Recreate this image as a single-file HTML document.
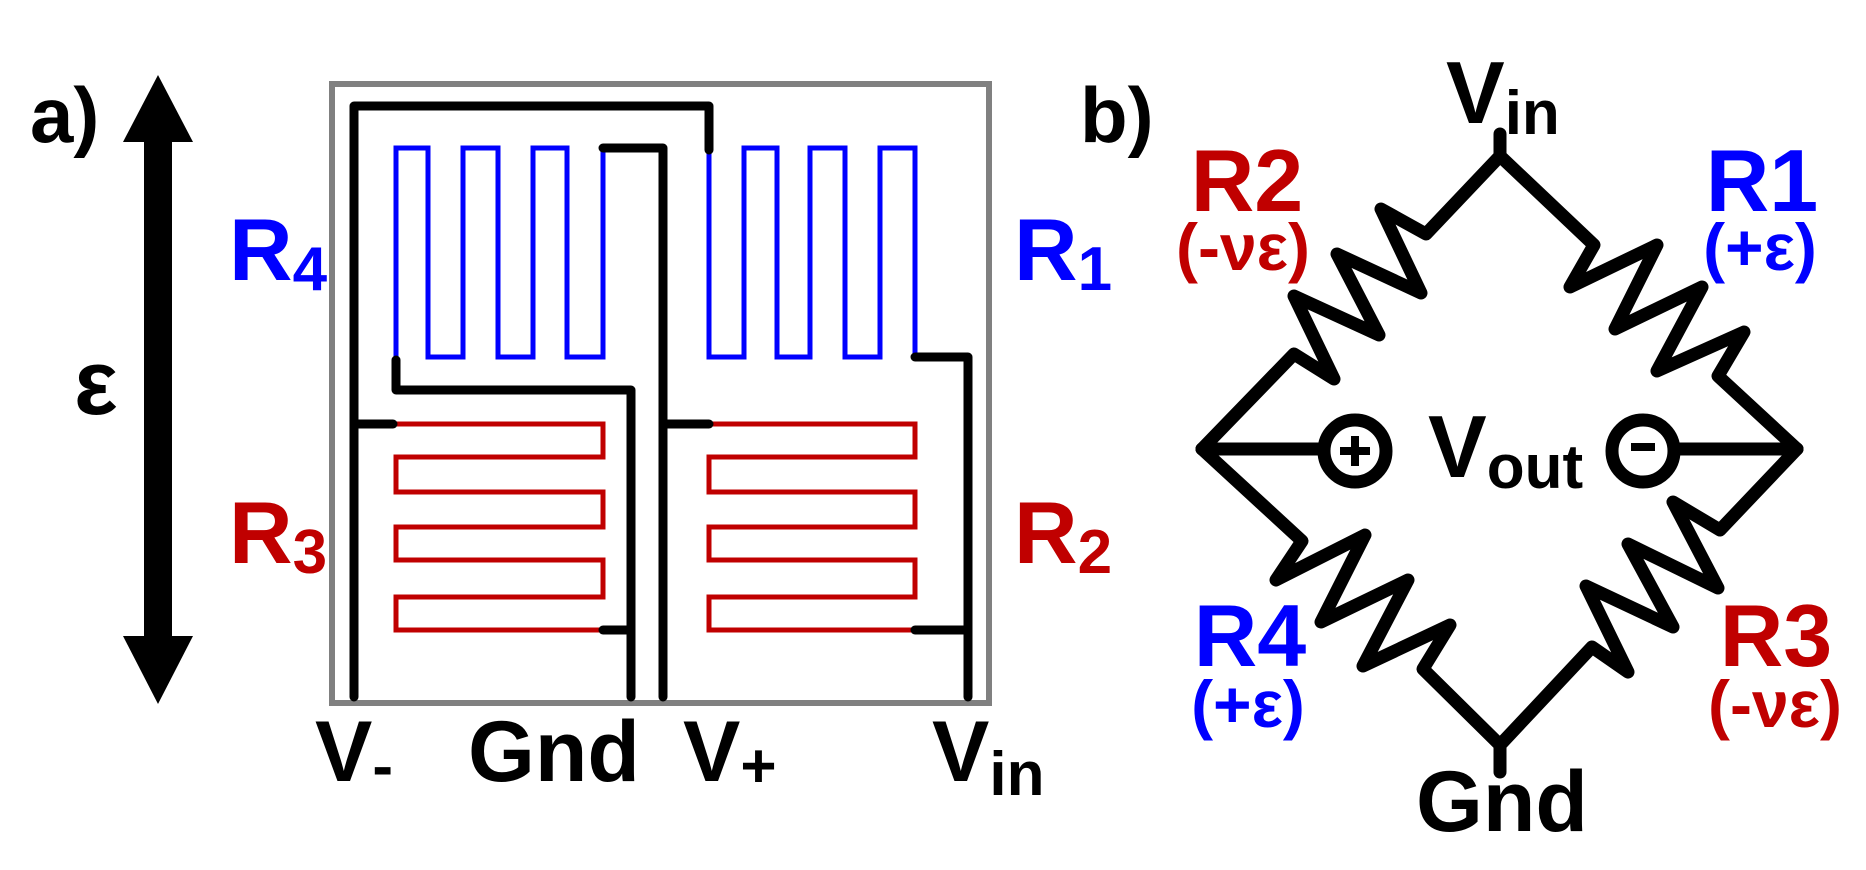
<!DOCTYPE html>
<html><head><meta charset="utf-8"><style>
html,body{margin:0;padding:0;background:#fff;width:1866px;height:870px;overflow:hidden}
svg{display:block}
text{font-family:"Liberation Sans",sans-serif;font-weight:bold}
</style></head><body>
<svg width="1866" height="870" viewBox="0 0 1866 870" xmlns="http://www.w3.org/2000/svg">
<!-- panel a -->
<text x="30" y="142" font-size="78" fill="#000">a)</text>
<text x="74" y="414" font-size="92" fill="#000">ε</text>
<rect x="144" y="138" width="28" height="500" fill="#000"/>
<polygon points="158,75 193,142 123,142" fill="#000"/>
<polygon points="158,704 193,636 123,636" fill="#000"/>
<rect x="332" y="84" width="657" height="619" fill="none" stroke="#808080" stroke-width="6"/>
<g fill="none" stroke="#0000ff" stroke-width="5" stroke-linejoin="miter">
<polyline points="396,357 396,148 428,148 428,357 463,357 463,148 498,148 498,357 533,357 533,148 567,148 567,357 603,357 603,148"/>
<polyline points="709,148 709,357 744,357 744,148 777,148 777,357 810,357 810,148 845,148 845,357 880,357 880,148 915,148 915,357"/>
</g>
<g fill="none" stroke="#c00000" stroke-width="5">
<polyline points="396,424 603,424 603,457 396,457 396,492 603,492 603,527 396,527 396,560 603,560 603,597 396,597 396,630 603,630"/>
<polyline points="709,424 915,424 915,457 709,457 709,492 915,492 915,527 709,527 709,560 915,560 915,597 709,597 709,630 915,630"/>
</g>
<g fill="none" stroke="#000" stroke-width="9" stroke-linecap="round" stroke-linejoin="round">
<polyline points="354,697 354,106 709,106 709,150"/>
<line x1="354" y1="424" x2="393" y2="424"/>
<polyline points="603,148 663,148 663,697"/>
<polyline points="396,360 396,390 631,390 631,697"/>
<line x1="603" y1="630" x2="631" y2="630"/>
<line x1="663" y1="424" x2="709" y2="424"/>
<polyline points="915,357 968,357 968,697"/>
<line x1="915" y1="630" x2="968" y2="630"/>
</g>
<text x="229" y="280" font-size="88" fill="#0000ff">R<tspan font-size="62" dy="10">4</tspan></text>
<text x="1014" y="280" font-size="88" fill="#0000ff">R<tspan font-size="62" dy="10">1</tspan></text>
<text x="229" y="563" font-size="88" fill="#c00000">R<tspan font-size="62" dy="10">3</tspan></text>
<text x="1014" y="563" font-size="88" fill="#c00000">R<tspan font-size="62" dy="10">2</tspan></text>
<text x="315" y="781" font-size="86" fill="#000">V<tspan font-size="62" dy="6">-</tspan></text>
<text x="468" y="781" font-size="86" fill="#000">Gnd</text>
<text x="683" y="781" font-size="86" fill="#000">V<tspan font-size="62" dy="6">+</tspan></text>
<text x="932" y="781" font-size="86" fill="#000">V<tspan font-size="62" dy="14">in</tspan></text>
<!-- panel b -->
<text x="1080" y="142" font-size="78" fill="#000">b)</text>
<g fill="none" stroke="#000" stroke-width="13" stroke-linecap="round" stroke-linejoin="round">
<line x1="1500" y1="134" x2="1500" y2="156"/>
<line x1="1500" y1="745" x2="1500" y2="772"/>
<polyline points="1500,156 1426,234 1381,209 1421,293 1337,254 1379,335 1294,296 1334,379 1294,354 1202,449"/>
<polyline points="1500,156 1594,245 1570,287 1657,245 1615,329 1702,287 1657,371 1744,332 1718,376 1797,449"/>
<polyline points="1202,449 1302,541 1276,580 1365,535 1321,622 1408,580 1363,666 1450,625 1423,669 1500,745"/>
<polyline points="1797,449 1720,530 1673,502 1718,588 1628,544 1673,627 1586,586 1628,672 1592,647 1500,745"/>
<line x1="1202" y1="449" x2="1323" y2="449"/>
<line x1="1677" y1="449" x2="1797" y2="449"/>
<circle cx="1355" cy="451" r="31"/>
<circle cx="1643" cy="451" r="31"/>
</g>
<g stroke="#000" stroke-width="8">
<line x1="1340" y1="451" x2="1370" y2="451"/>
<line x1="1355" y1="436" x2="1355" y2="466"/>
<line x1="1631" y1="447" x2="1655" y2="447"/>
</g>
<text x="1428" y="477" font-size="88" fill="#000">V<tspan font-size="62" dy="11">out</tspan></text>
<text x="1446" y="123" font-size="88" fill="#000">V<tspan font-size="62" dy="11">in</tspan></text>
<text x="1416" y="831" font-size="86" fill="#000">Gnd</text>
<g text-anchor="middle">
<text x="1247" y="211" font-size="88" fill="#c00000">R2</text>
<text x="1243" y="270" font-size="66" fill="#c00000">(-νε)</text>
<text x="1762" y="211" font-size="88" fill="#0000ff">R1</text>
<text x="1760" y="270" font-size="66" fill="#0000ff">(+ε)</text>
<text x="1250" y="666" font-size="88" fill="#0000ff">R4</text>
<text x="1248" y="727" font-size="66" fill="#0000ff">(+ε)</text>
<text x="1776" y="666" font-size="88" fill="#c00000">R3</text>
<text x="1775" y="727" font-size="66" fill="#c00000">(-νε)</text>
</g>
</svg>
</body></html>
